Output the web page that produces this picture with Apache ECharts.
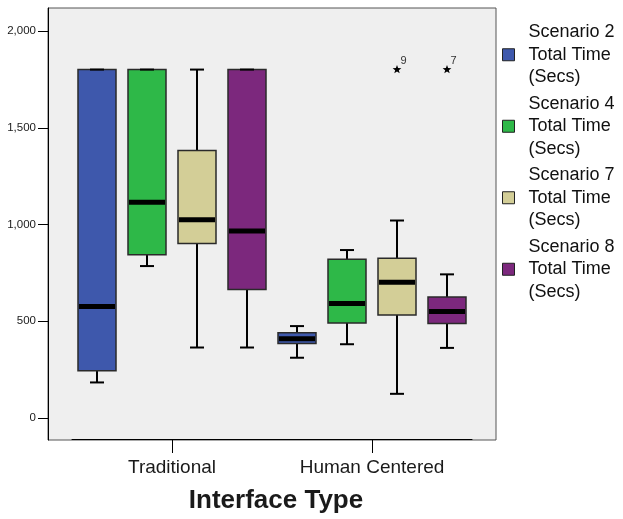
<!DOCTYPE html>
<html>
<head>
<meta charset="utf-8">
<script src="https://cdn.jsdelivr.net/npm/echarts@6/dist/echarts.min.js"></script>
<style>
html,body{margin:0;padding:0;background:#fff;}
#chart{width:623px;height:519px;}
</style>
</head>
<body>
<div id="chart"></div>
<script>
// ---- data ----
const categories = ['Traditional', 'Human Centered'];
const seriesNames = [
  'Scenario 2\nTotal Time\n(Secs)',
  'Scenario 4\nTotal Time\n(Secs)',
  'Scenario 7\nTotal Time\n(Secs)',
  'Scenario 8\nTotal Time\n(Secs)'
];
const seriesColors = ['#3E58AC', '#2EB848', '#D3CE97', '#7C287D'];
// [min, Q1, median, Q3, max] per category
const scenario2 = [[179, 239, 572, 1800, 1800], [307, 381, 406, 436, 471]];
const scenario4 = [[782, 841, 1113, 1800, 1800], [377, 487, 588, 817, 865]];
const scenario7 = [[360, 899, 1022, 1381, 1800], [120, 529, 698, 822, 1018]];
const scenario8 = [[360, 660, 963, 1800, 1800], [358, 484, 546, 622, 739]];
const outlierSeries = [2, 3];
const outlierCats = [1, 1];
const outlierValues = [1800, 1800];
const outlierLabels = ['9', '7'];
const yTicks = [0, 500, 1000, 1500, 2000];
const yMin = -114, yMax = 2119;

const allSeries = [scenario2, scenario4, scenario7, scenario8];
const FONT = '"Liberation Sans", Arial, sans-serif';

function slotX(api, cat, slot) {
  const band = api.size([1, 0])[0];
  return { cx: api.coord([cat, 0])[0] + (slot - 1.5) * band * 0.25, band: band };
}

function makeBoxRenderer(slot) {
  return function (params, api) {
    const cat = api.value(0);
    const p = slotX(api, cat, slot);
    const cx = p.cx, band = p.band;
    const w = band * 0.19, capW = band * 0.07;
    const y = (i) => api.coord([cat, api.value(i)])[1];
    const yMn = y(1), yQ1 = y(2), yMd = y(3), yQ3 = y(4), yMx = y(5);
    const color = api.visual('color');
    const line = (x1, y1, x2, y2, lw) => ({
      type: 'line', shape: { x1, y1, x2, y2 },
      style: { stroke: '#000', lineWidth: lw }
    });
    return {
      type: 'group',
      children: [
        line(cx, yMx, cx, yQ3, 2),
        line(cx, yQ1, cx, yMn, 2),
        {
          type: 'rect',
          shape: { x: cx - w / 2, y: yQ3, width: w, height: yQ1 - yQ3 },
          style: { fill: color, stroke: '#2a2a2a', lineWidth: 1.5 }
        },
        line(cx - w / 2 + 1, yMd, cx + w / 2 - 1, yMd, 5),
        line(cx - capW / 2, yMx, cx + capW / 2, yMx, 2),
        line(cx - capW / 2, yMn, cx + capW / 2, yMn, 2)
      ]
    };
  };
}

function renderOutlier(params, api) {
  const cat = api.value(0);
  const slot = api.value(2);
  const cx = slotX(api, cat, slot).cx;
  const cy = api.coord([cat, api.value(1)])[1];
  const pts = [];
  for (let i = 0; i < 10; i++) {
    const r = i % 2 === 0 ? 4.6 : 1.9;
    const a = -Math.PI / 2 + i * Math.PI / 5;
    pts.push([cx + r * Math.cos(a), cy + r * Math.sin(a)]);
  }
  return {
    type: 'group',
    children: [
      { type: 'polygon', shape: { points: pts }, style: { fill: '#000' } },
      {
        type: 'text', x: cx + 3.5, y: cy - 3,
        style: {
          text: outlierLabels[params.dataIndex], fill: '#333',
          font: '11px ' + FONT, align: 'left', verticalAlign: 'bottom'
        }
      }
    ]
  };
}

const series = allSeries.map((arr, s) => ({
  name: seriesNames[s],
  type: 'custom',
  xAxisIndex: 0,
  yAxisIndex: 0,
  itemStyle: { color: seriesColors[s] },
  renderItem: makeBoxRenderer(s),
  encode: { x: 0, y: [1, 2, 3, 4, 5] },
  data: arr.map((v, c) => [c].concat(v)),
  silent: true,
  z: 3
}));
series.push({
  name: 'outliers',
  type: 'custom',
  xAxisIndex: 0,
  yAxisIndex: 0,
  renderItem: renderOutlier,
  encode: { x: 0, y: 1 },
  data: outlierValues.map((v, i) => [outlierCats[i], v, outlierSeries[i]]),
  silent: true,
  z: 4
});

const chart = echarts.init(document.getElementById('chart'), null, { renderer: 'canvas' });
chart.setOption({
  animation: false,
  backgroundColor: '#ffffff',
  textStyle: { fontFamily: FONT },
  legend: {
    data: seriesNames,
    orient: 'vertical',
    left: 502,
    top: 21,
    padding: 0,
    itemWidth: 12,
    itemHeight: 12,
    itemGap: 4,
    icon: 'rect',
    selectedMode: false,
    itemStyle: { borderColor: '#222', borderWidth: 1 },
    textStyle: { fontSize: 18, lineHeight: 22.5, color: '#111', fontFamily: FONT, padding: [0, 0, 0, 9] }
  },
  grid: [
    { left: 72, right: 151, top: 8, bottom: 79, show: false },
    { left: 48, right: 127, top: 8, bottom: 79, show: true, backgroundColor: '#EFEFEF', borderColor: '#555', borderWidth: 1, z: -1 }
  ],
  xAxis: [
    {
      type: 'category', gridIndex: 0, data: categories,
      axisLine: { show: true, onZero: false, lineStyle: { color: '#000', width: 1 } },
      axisTick: { show: true, alignWithLabel: true, length: 14, lineStyle: { color: '#000', width: 1 } },
      axisLabel: { fontSize: 19, color: '#1a1a1a', margin: 19, fontFamily: FONT },
      splitLine: { show: false },
      name: 'Interface Type',
      nameLocation: 'middle',
      nameGap: 49,
      nameTextStyle: { fontSize: 26, fontWeight: 'bold', color: '#1a1a1a', fontFamily: FONT, padding: [0, 0, 0, 8] }
    },
    { type: 'value', gridIndex: 1, show: false, min: 0, max: 1 }
  ],
  yAxis: [
    { type: 'value', gridIndex: 0, show: false, min: yMin, max: yMax, splitLine: { show: false } },
    {
      type: 'value', gridIndex: 1, min: yMin, max: yMax,
      axisLine: { show: true, lineStyle: { color: '#000', width: 1 } },
      axisTick: { show: true, length: 10, customValues: yTicks, lineStyle: { color: '#000' } },
      axisLabel: {
        customValues: yTicks, fontSize: 11.5, color: '#1a1a1a', margin: 12, fontFamily: FONT,
        formatter: (v) => v.toLocaleString('en-US')
      },
      splitLine: { show: false }
    }
  ],
  series: series
});
</script>
</body>
</html>
